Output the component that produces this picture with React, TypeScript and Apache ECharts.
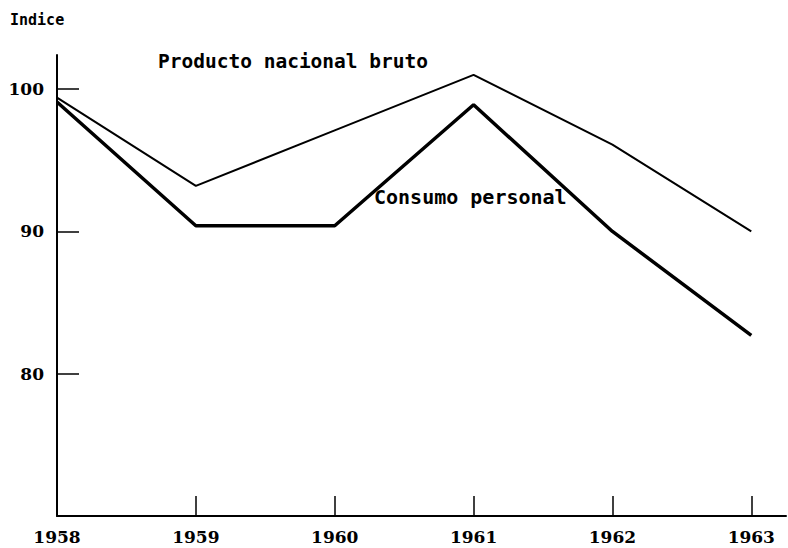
import React, { useEffect, useRef } from "react";
import * as echarts from "echarts";

const years = [1958, 1959, 1960, 1961, 1962, 1963];
const productoNacionalBruto = [99.4, 93.2, 97.1, 101.0, 96.1, 90.0];
const consumoPersonal = [99.1, 90.4, 90.4, 98.9, 90.0, 82.7];
const yTickLabels = [80, 90, 100];
const xTickLabels = [1958, 1959, 1960, 1961, 1962, 1963];

const serifFont = "'DejaVu Serif', serif";
const monoFont = "'DejaVu Sans Mono', 'Liberation Mono', monospace";

export default function App() {
  const ref = useRef<HTMLDivElement>(null);
  useEffect(() => {
    if (!ref.current) return;
    const chart = echarts.init(ref.current, null, { renderer: "svg" });
    const pnb = years.map((y, i) => [y, productoNacionalBruto[i]]);
    const cp = years.map((y, i) => [y, consumoPersonal[i]]);
    chart.setOption({
      animation: false,
      backgroundColor: "#ffffff",
      grid: { left: 57, right: 2, top: 55, bottom: 32, containLabel: false },
      xAxis: {
        type: "value",
        min: 1958,
        max: 1963.25,
        interval: 1,
        splitLine: { show: false },
        axisLine: { show: true, lineStyle: { color: "#000", width: 2 } },
        axisTick: {
          show: true,
          inside: true,
          length: 20,
          lineStyle: { color: "#000", width: 1.5 },
          customValues: xTickLabels.slice(1),
        },
        axisLabel: {
          show: true,
          customValues: xTickLabels,
          formatter: (v: number) => String(Math.round(v)),
          color: "#000",
          fontFamily: serifFont,
          fontWeight: "bold",
          fontSize: 17,
          margin: 12,
        },
      },
      yAxis: {
        type: "value",
        min: 70,
        max: 102.4,
        interval: 10,
        splitLine: { show: false },
        axisLine: { show: true, lineStyle: { color: "#000", width: 2 } },
        axisTick: {
          show: true,
          inside: true,
          length: 22,
          lineStyle: { color: "#000", width: 1.5 },
          customValues: yTickLabels,
        },
        axisLabel: {
          show: true,
          customValues: yTickLabels,
          formatter: (v: number) => String(Math.round(v)),
          color: "#000",
          fontFamily: serifFont,
          fontWeight: "bold",
          fontSize: 17,
          margin: 13,
        },
      },
      series: [
        {
          name: "Producto nacional bruto",
          type: "line",
          data: pnb,
          symbol: "none",
          lineStyle: { color: "#000", width: 2 },
        },
        {
          name: "Consumo personal",
          type: "line",
          data: cp,
          symbol: "none",
          lineStyle: { color: "#000", width: 3.5 },
        },
      ],
      graphic: [
        {
          type: "text",
          left: 10,
          top: 12,
          style: {
            text: "Indice",
            fill: "#000",
            font: `bold 15px ${monoFont}`,
          },
        },
        {
          type: "text",
          left: 158,
          top: 51,
          style: {
            text: "Producto nacional bruto",
            fill: "#000",
            font: `bold 19.5px ${monoFont}`,
          },
        },
        {
          type: "text",
          left: 374,
          top: 187,
          style: {
            text: "Consumo personal",
            fill: "#000",
            font: `bold 20px ${monoFont}`,
          },
        },
      ],
    });
    return () => chart.dispose();
  }, []);
  return <div ref={ref} style={{ width: 788, height: 548, position: "absolute", left: 0, top: 0 }} />;
}
